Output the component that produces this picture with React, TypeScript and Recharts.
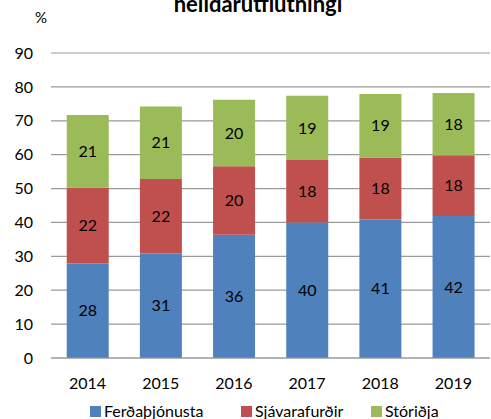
import React from "react";
import { BarChart, Bar, XAxis, YAxis, CartesianGrid, LabelList } from "recharts";

const years = ["2014", "2015", "2016", "2017", "2018", "2019"];
const ferdathjonusta = [27.9, 30.8, 36.4, 40.0, 40.9, 41.9];
const sjavarafurdir = [22.4, 22.0, 20.2, 18.4, 18.3, 17.9];
const storidja = [21.4, 21.4, 19.6, 19.0, 18.7, 18.4];
const yTicks = [0, 10, 20, 30, 40, 50, 60, 70, 80, 90];
const seriesNames = ["Ferðaþjónusta", "Sjávarafurðir", "Stóriðja"];
const colors = ["#4F81BD", "#C0504D", "#9BBB59"];

const data = years.map((y, i) => ({
  year: y,
  a: ferdathjonusta[i],
  b: sjavarafurdir[i],
  c: storidja[i],
}));

const FONT = "Lato, 'Open Sans', sans-serif";

const fmt = (v: any) => Math.round(Number(v)).toString();

export default function App() {
  const keys = ["a", "b", "c"];
  return (
    <div style={{ position: "absolute", left: 0, top: 0, width: 491, height: 419, background: "#fff", fontFamily: FONT, overflow: "hidden" }}>
      <div
        style={{
          position: "absolute",
          left: 0,
          width: 516,
          top: -8,
          textAlign: "center",
          fontWeight: 700,
          fontSize: 22,
          lineHeight: "24px",
          color: "#000",
          whiteSpace: "nowrap",
        }}
      >
        heildarútflutningi
      </div>
      <div style={{ position: "absolute", left: 35, top: 8, fontSize: 15, color: "#000" }}>%</div>
      <BarChart
        width={491}
        height={419}
        data={data}
        margin={{ top: 53, right: 1, left: 0, bottom: 31 }}
        barCategoryGap="21.5%"
      >
        <CartesianGrid horizontal vertical={false} stroke="#9a9a9a" strokeWidth={1.2} />
        <XAxis
          dataKey="year"
          tickLine={false}
          axisLine={{ stroke: "#9a9a9a", strokeWidth: 1.2 }}
          tick={{ fill: "#000", fontSize: 16, fontFamily: FONT }}
          tickMargin={14}
          height={30}
        />
        <YAxis
          domain={[0, 90]}
          ticks={yTicks}
          width={51}
          axisLine={false}
          tickLine={false}
          tickSize={0}
          tickMargin={18}
          interval={0}
          tick={{ fill: "#000", fontSize: 16, fontFamily: FONT }}
        />
        {keys.map((k, i) => (
          <Bar key={k} dataKey={k} name={seriesNames[i]} stackId="s" fill={colors[i]} isAnimationActive={false}>
            <LabelList
              dataKey={k}
              position="center"
              formatter={fmt}
              style={{ fill: "#000", fontSize: 16, fontFamily: FONT }}
            />
          </Bar>
        ))}
      </BarChart>
      <div
        style={{
          position: "absolute",
          left: 0,
          top: 401,
          width: 491,
          height: 20,
          fontSize: 16,
          color: "#000",
        }}
      >
        {seriesNames.map((n, i) => (
          <div
            key={n}
            style={{
              position: "absolute",
              left: [90, 241, 371][i],
              top: 0,
              display: "flex",
              alignItems: "center",
              whiteSpace: "nowrap",
            }}
          >
            <span style={{ display: "inline-block", width: 11, height: 11, background: colors[i], marginRight: 3 }} />
            <span style={{ lineHeight: "20px" }}>{n}</span>
          </div>
        ))}
      </div>
    </div>
  );
}
